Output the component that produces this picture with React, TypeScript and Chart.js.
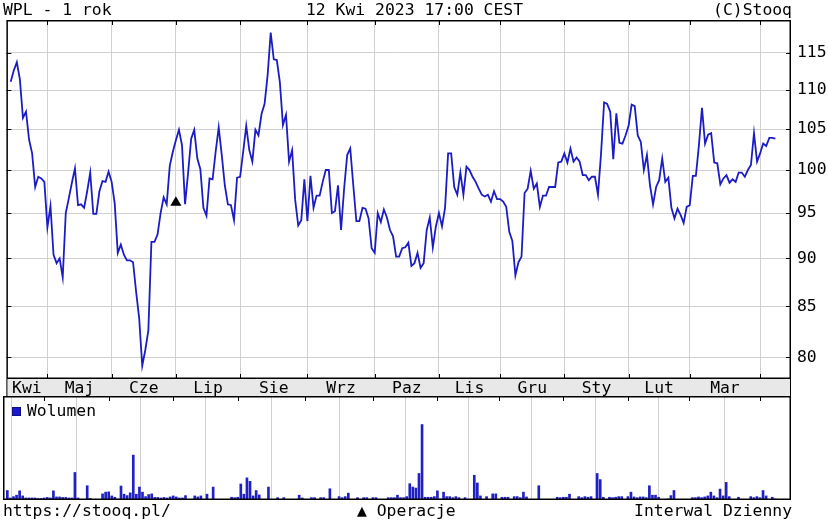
import React, { useEffect, useRef } from 'react';
import { Chart, registerables } from 'chart.js';

Chart.register(...registerables);

const FONT = '"DejaVu Sans Mono", monospace';
const FONT_SIZE = 16.4;

// Month labels on the time axis and the trading-day index where each month starts
const monthLabels = ['Kwi', 'Maj', 'Cze', 'Lip', 'Sie', 'Wrz', 'Paz', 'Lis', 'Gru', 'Sty', 'Lut', 'Mar'];
const monthStartIndex = [12, 33, 54, 75, 97, 119, 140, 160, 181, 202, 222, 245];

// Price axis ticks
const priceTicks = [80, 85, 90, 95, 100, 105, 110, 115];

// Daily closing prices, 12 Apr 2022 .. 12 Apr 2023
const closePrices = [
  111.1, 112.6, 113.7, 111.4, 106.4, 107.2, 103.7, 102.0, 98.0, 99.2, 99.0, 98.6,
  93.4, 95.8, 90.4, 89.5, 90.0, 88.0, 95.0, 96.7, 98.5, 100.2, 95.9, 96.0, 95.6, 97.5, 99.7, 94.9, 94.9, 97.5, 98.7, 98.6, 99.8,
  98.6, 96.1, 90.6, 91.5, 90.4, 89.8, 89.8, 89.6, 86.5, 83.8, 79.2, 80.7, 82.6, 91.8, 91.8, 92.6, 95.0, 96.8, 96.0, 100.5, 102.2,
  103.6, 104.9, 103.0, 96.0, 99.7, 103.8, 104.9, 101.4, 100.1, 95.6, 94.7, 99.0, 98.9, 102.2, 105.2, 101.8, 98.2, 96.0, 95.9, 94.2, 99.1,
  99.2, 102.2, 105.4, 102.4, 101.0, 104.9, 104.2, 106.9, 108.2, 112.0, 117.8, 114.1, 114.0, 111.0, 105.5, 106.8, 101.0, 102.4, 96.5, 93.6, 94.2, 98.9,
  94.1, 99.3, 95.6, 97.0, 97.0, 98.6, 100.0, 100.0, 95.0, 95.2, 98.2, 93.1, 97.8, 101.8, 102.6, 98.2, 94.1, 94.1, 95.6, 95.5, 94.4, 91.1,
  90.6, 95.0, 94.0, 95.4, 94.5, 93.1, 92.4, 90.2, 90.2, 91.1, 91.2, 91.7, 89.2, 89.5, 90.6, 89.0, 89.5, 93.1, 94.5, 91.2, 93.5,
  95.0, 93.5, 95.6, 102.0, 102.0, 98.0, 97.1, 99.7, 97.1, 100.4, 100.0, 99.2, 98.6, 97.8, 97.1, 96.9, 97.1, 96.3, 97.5, 96.6,
  96.6, 96.3, 95.7, 92.9, 91.9, 88.2, 89.6, 90.2, 97.3, 97.8, 99.9, 97.8, 98.4, 95.7, 97.0, 97.0, 98.0, 98.0, 98.0, 100.9, 101.0,
  102.0, 100.9, 102.6, 101.0, 101.5, 101.0, 99.4, 99.4, 98.8, 99.2, 99.2, 97.1, 102.0, 108.4, 108.2, 107.2, 101.3, 107.0, 103.3, 103.2, 104.2,
  105.4, 108.1, 107.9, 104.2, 103.4, 100.0, 101.8, 98.2, 96.0, 98.0, 98.8, 101.4, 98.6, 99.1, 95.6, 94.4, 95.5, 94.8, 93.9, 95.7,
  95.9, 99.3, 99.3, 103.0, 107.7, 103.2, 104.3, 104.5, 100.9, 100.8, 98.3, 99.0, 99.4, 98.5, 98.9, 98.6, 99.7, 99.7, 99.2, 100.0, 100.6, 104.5, 101.0,
  102.0, 103.2, 102.9, 103.9, 103.9, 103.8,
];

// Daily volume (relative units)
const volumes = [
  9.3, 2, 3.3, 4.7, 9, 4, 2, 2, 2, 2, 1.5, 1.5,
  2, 2.5, 2, 9, 3, 3, 2.5, 2.5, 2, 2, 27, 2, 0.5, 0.5, 14, 1.5, 0.5, 0.5, 0.5, 6, 7.7,
  8, 4, 2.7, 1, 13.7, 5.7, 4.3, 7, 44, 5.7, 12.7, 7.7, 3.3, 5.3, 6, 2.5, 2.5, 2, 2.5, 2, 3,
  4, 3, 2, 2, 4.3, 0.5, 0.5, 4, 3, 4, 0.5, 5.7, 0.5, 12.7, 0.5, 0.5, 0.5, 0.5, 0.5, 2.7, 2.3,
  2.7, 15.7, 5.7, 21.7, 18.3, 4, 9.3, 5, 0.5, 0.5, 12.7, 0.5, 0.5, 2.3, 0.5, 2.3, 0.5, 0.5, 0.5, 0.5, 4.7, 2,
  0.5, 0.5, 2.3, 2.3, 0.5, 2.3, 2.3, 0.5, 11, 0.5, 0.5, 3.3, 2.3, 3.3, 6.7, 0.5, 0.5, 2.3, 0.5, 2.3, 2.3, 0.5,
  2.3, 2.3, 0.5, 0.5, 0.5, 2.3, 2.3, 2.3, 4.7, 2.3, 2.3, 3.3, 16, 12.7, 11.7, 26, 74, 2.7, 2.7, 2.7, 3.3,
  9, 1, 7.7, 3.3, 3.3, 2.3, 3.3, 2.3, 0.5, 2.3, 0.5, 0.5, 24.3, 16.7, 4, 0.5, 3.3, 0.5, 6, 6,
  0.5, 2.7, 2.7, 2.7, 0.5, 3.3, 3.3, 2.3, 7.7, 3, 0.5, 0.5, 0.5, 14, 0.5, 0.5, 0.5, 0.5, 0.5, 2.7, 2.3,
  2.7, 2.7, 5.7, 0.5, 0.5, 3.3, 2.3, 3.3, 2.7, 3.3, 0.5, 26, 20, 2.7, 0.5, 2.7, 2.3, 2.7, 3.3, 3.3, 0.5,
  3.3, 7.7, 3, 2.3, 3, 3, 2.3, 14, 4.7, 4.7, 2.7, 0.5, 0.5, 1, 4.3, 9.3, 0.5, 0.5, 0.5, 0.5,
  0.5, 2.3, 2.3, 3, 2.3, 3, 4, 7.7, 4, 2.3, 10.7, 4, 17.3, 3.3, 0.5, 0.5, 2.7, 0.5, 0.5, 0.5, 3.3, 2.3, 3.3,
  2.3, 9.3, 4, 0.5, 2.7, 1,
];

// "Operacje" marker (trading-day index and price level)
const operationIndex = [54];
const operationLevel = [96.2];

const X_MIN = -1.41;
const X_MAX = 255.1;
const PRICE_MIN = 77.96;
const PRICE_MAX = 119.57;
const VOLUME_MAX = 102;

const labelPositions = monthLabels.map((_, i) => {
  const from = i === 0 ? X_MIN : monthStartIndex[i - 1];
  return (from + monthStartIndex[i]) / 2;
});

const GRID = '#d0d0d0';

function makeFrame(opts: { band: boolean; yTicks: boolean; bottomTicks: boolean }) {
  return {
    id: 'frame',
    beforeDraw(chart: any) {
      if (!opts.band) return;
      const { ctx, chartArea: a } = chart;
      ctx.save();
      ctx.fillStyle = '#e8e8e8';
      ctx.fillRect(a.left, a.bottom, a.right - a.left, chart.height - a.bottom);
      ctx.restore();
    },
    afterDraw(chart: any) {
      const { ctx, chartArea: a, scales } = chart;
      ctx.save();
      ctx.strokeStyle = '#000';
      ctx.lineWidth = 1;
      ctx.beginPath();
      for (const idx of monthStartIndex) {
        const x = Math.round(scales.x.getPixelForValue(idx)) + 0.5;
        ctx.moveTo(x, a.top);
        ctx.lineTo(x, a.top + 5);
        if (opts.bottomTicks) {
          ctx.moveTo(x, a.bottom);
          ctx.lineTo(x, a.bottom - 5);
        }
      }
      if (opts.yTicks) {
        for (const v of priceTicks) {
          const y = Math.round(scales.y.getPixelForValue(v)) + 0.5;
          ctx.moveTo(a.left, y);
          ctx.lineTo(a.left + 5, y);
          ctx.moveTo(a.right, y);
          ctx.lineTo(a.right - 5, y);
        }
      }
      if (opts.band) {
        ctx.moveTo(a.left + 0.5, a.bottom);
        ctx.lineTo(a.left + 0.5, chart.height);
        ctx.moveTo(a.right - 0.5, a.bottom);
        ctx.lineTo(a.right - 0.5, chart.height);
      }
      ctx.stroke();
      ctx.lineWidth = 1.5;
      ctx.strokeRect(a.left + 0.75, a.top + 0.75, a.right - a.left - 1.5, a.bottom - a.top - 1.5);
      ctx.restore();
    },
  };
}

const textStyle: React.CSSProperties = {
  position: 'absolute',
  fontFamily: FONT,
  fontSize: FONT_SIZE,
  lineHeight: `${FONT_SIZE}px`,
  whiteSpace: 'pre',
  color: '#000',
};

export default function App() {
  const mainRef = useRef<HTMLCanvasElement>(null);
  const volRef = useRef<HTMLCanvasElement>(null);

  useEffect(() => {
    Chart.defaults.font.family = FONT;
    const font = { family: FONT, size: FONT_SIZE };

    const main = new Chart(mainRef.current as HTMLCanvasElement, {
      type: 'line',
      data: {
        datasets: [
          {
            type: 'line',
            data: closePrices.map((y, x) => ({ x, y })),
            borderColor: '#1c1cc4',
            borderWidth: 1.8,
            pointRadius: 0,
            tension: 0,
            xAxisID: 'x',
            yAxisID: 'y',
          },
          {
            type: 'scatter',
            data: operationIndex.map((x, i) => ({ x, y: operationLevel[i] })),
            pointStyle: 'triangle',
            pointRadius: 6.4,
            backgroundColor: '#000',
            borderWidth: 0,
            xAxisID: 'x',
            yAxisID: 'y',
          } as any,
        ],
      },
      options: {
        animation: false,
        responsive: false,
        maintainAspectRatio: false,
        devicePixelRatio: 1,
        layout: { padding: { left: 3, top: 20, right: 0, bottom: 0 } },
        plugins: { legend: { display: false }, tooltip: { enabled: false } },
        scales: {
          x: {
            type: 'linear',
            position: 'bottom',
            min: X_MIN,
            max: X_MAX,
            afterBuildTicks: (s: any) => {
              s.ticks = monthStartIndex.map((value) => ({ value }));
            },
            ticks: { display: false },
            grid: { color: GRID, drawTicks: false },
            border: { display: false },
            afterFit: (s: any) => {
              s.height = 0;
            },
          },
          xl: {
            type: 'linear',
            position: 'bottom',
            min: X_MIN,
            max: X_MAX,
            afterBuildTicks: (s: any) => {
              s.ticks = labelPositions.map((value) => ({ value }));
            },
            ticks: {
              callback: (_v: any, i: number) => monthLabels[i],
              font,
              color: '#000',
              padding: 0,
              maxRotation: 0,
              autoSkip: false,
            },
            grid: { display: false, drawTicks: false },
            border: { display: false },
            afterFit: (s: any) => {
              s.height = 18;
            },
          },
          y: {
            type: 'logarithmic',
            position: 'right',
            min: PRICE_MIN,
            max: PRICE_MAX,
            afterBuildTicks: (s: any) => {
              s.ticks = priceTicks.map((value) => ({ value }));
            },
            ticks: {
              callback: (v: any) => String(v),
              font,
              color: '#000',
              padding: 6,
              autoSkip: false,
            },
            grid: { color: GRID, drawTicks: false },
            border: { display: false },
            afterFit: (s: any) => {
              s.width = 37;
            },
          },
        } as any,
      },
      plugins: [makeFrame({ band: true, yTicks: true, bottomTicks: true })],
    });

    const vol = new Chart(volRef.current as HTMLCanvasElement, {
      type: 'bar',
      data: {
        datasets: [
          {
            data: volumes.map((y, x) => ({ x, y })) as any,
            backgroundColor: '#2020c4',
            barThickness: 2,
            xAxisID: 'x',
            yAxisID: 'y',
          },
        ],
      },
      options: {
        animation: false,
        responsive: false,
        maintainAspectRatio: false,
        devicePixelRatio: 1,
        layout: { padding: { left: 3, top: 0, right: 37, bottom: 2 } },
        plugins: { legend: { display: false }, tooltip: { enabled: false } },
        scales: {
          x: {
            type: 'linear',
            offset: false,
            min: X_MIN,
            max: X_MAX,
            afterBuildTicks: (s: any) => {
              s.ticks = monthStartIndex.map((value) => ({ value }));
            },
            ticks: { display: false },
            grid: { color: GRID, drawTicks: false },
            border: { display: false },
            afterFit: (s: any) => {
              s.height = 0;
            },
          },
          y: { display: false, min: 0, max: VOLUME_MAX },
        } as any,
      },
      plugins: [makeFrame({ band: false, yTicks: false, bottomTicks: false })],
    });

    return () => {
      main.destroy();
      vol.destroy();
    };
  }, []);

  return (
    <div
      style={{
        position: 'fixed',
        left: 0,
        top: 0,
        width: 828,
        height: 523,
        background: '#fff',
        overflow: 'hidden',
      }}
    >
      <canvas ref={mainRef} width={828} height={397} style={{ position: 'absolute', left: 0, top: 0, width: 828, height: 397 }} />
      <canvas ref={volRef} width={828} height={106} style={{ position: 'absolute', left: 0, top: 396, width: 828, height: 106 }} />
      <div style={{ ...textStyle, left: 3, top: 2 }}>WPL - 1 rok</div>
      <div style={{ ...textStyle, left: 306, top: 2 }}>12 Kwi 2023 17:00 CEST</div>
      <div style={{ ...textStyle, right: 36, top: 2 }}>(C)Stooq</div>
      <div style={{ position: 'absolute', left: 12, top: 407, width: 9, height: 9, background: '#1a1acc', boxSizing: 'border-box', border: '1px solid #10108a' }} />
      <div style={{ ...textStyle, left: 27, top: 403 }}>Wolumen</div>
      <div style={{ ...textStyle, left: 3, top: 503 }}>https://stooq.pl/</div>
      <div style={{ ...textStyle, left: 357, top: 503 }}>▲ Operacje</div>
      <div style={{ ...textStyle, right: 36, top: 503 }}>Interwal Dzienny</div>
    </div>
  );
}
